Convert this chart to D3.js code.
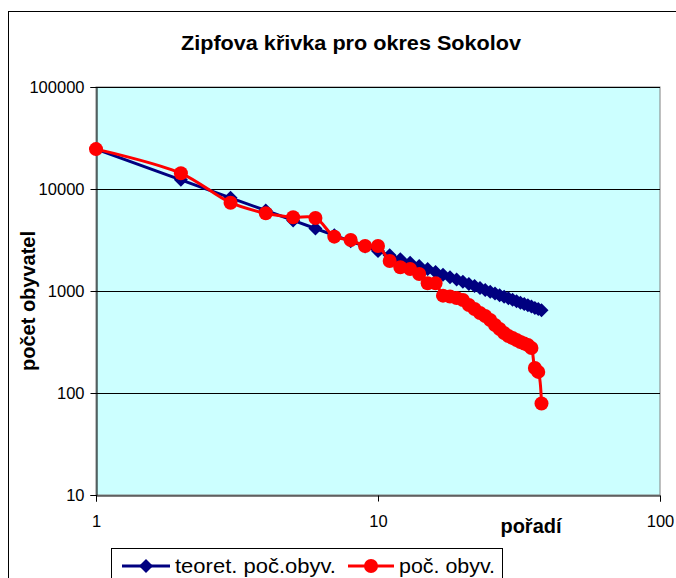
<!DOCTYPE html>
<html>
<head>
<meta charset="utf-8">
<script src="https://cdn.jsdelivr.net/npm/d3@7"></script>
<style>
  body { margin:0; background:#fff; }
  svg text { font-family:"Liberation Sans", Arial, sans-serif; }
</style>
</head>
<body>
<div id="chart"></div>
<script>
// ranks 1..38 (pořadí)
var ranks = d3.range(1, 39);

var pocObyv = [24600, 14260, 7340, 5780, 5280, 5200, 3410, 3160, 2760, 2760,
               1970, 1710, 1645, 1470, 1190, 1190, 900, 883, 853, 816,
               729, 666, 608, 569, 520, 464, 424, 387, 362, 346,
               331, 316, 305, 296, 276, 176, 161, 79];

// theoretical Zipf values (teoret. poč.obyv.) = first / rank
var teoretObyv = [24600, 12300, 8200, 6150, 4920, 4100, 3514, 3075, 2733, 2460,
                  2236, 2050, 1892, 1757, 1640, 1538, 1447, 1367, 1295, 1230,
                  1171, 1118, 1070, 1025, 984, 946, 911, 879, 848, 820,
                  794, 769, 745, 724, 703, 683, 665, 647];

var xTicks = [1, 10, 100];
var yTicks = [10, 100, 1000, 10000, 100000];

var W = 676, H = 578;
var plot = {left:96, right:660, top:87, bottom:495};

var svg = d3.select('#chart').append('svg')
    .attr('width', W)
    .attr('height', H);

//Outer chart frame
svg.append('rect')
    .attr('x', 8.5).attr('y', 11.5)
    .attr('width', 700).attr('height', 600)
    .attr('fill', '#fff')
    .attr('stroke', '#000')
    .attr('stroke-width', 1);

var x = d3.scaleLog().domain([1, 100]).range([plot.left, plot.right]);
var y = d3.scaleLog().domain([10, 100000]).range([plot.bottom, plot.top]);

//Plot background
svg.append('rect')
    .attr('x', plot.left).attr('y', plot.top)
    .attr('width', plot.right - plot.left)
    .attr('height', plot.bottom - plot.top)
    .attr('fill', '#CCFFFF')
    .attr('stroke', '#808080')
    .attr('stroke-width', 1);

//Horizontal grid lines
svg.append('g').selectAll('line')
    .data(yTicks.slice(1))
    .enter().append('line')
    .attr('x1', plot.left).attr('x2', plot.right)
    .attr('y1', function(d){ return Math.round(y(d)) + 0.5; })
    .attr('y2', function(d){ return Math.round(y(d)) + 0.5; })
    .attr('stroke', '#000')
    .attr('stroke-width', 1);

//Y axis
var yAxis = d3.axisLeft(y)
    .tickValues(yTicks)
    .tickFormat(d3.format('d'))
    .tickSize(6)
    .tickPadding(6);
var gy = svg.append('g')
    .attr('transform', 'translate(' + (plot.left + 0.5) + ',0)')
    .call(yAxis);
gy.selectAll('text').attr('font-size', 16.5).attr('fill', '#000');
gy.selectAll('line, path').attr('stroke', '#000');

//X axis
var xAxis = d3.axisBottom(x)
    .tickValues(xTicks)
    .tickFormat(d3.format('d'))
    .tickSize(6)
    .tickPadding(14);
var gx = svg.append('g')
    .attr('transform', 'translate(0,' + (plot.bottom + 0.5) + ')')
    .call(xAxis);
gx.selectAll('text').attr('font-size', 16.5).attr('fill', '#000');
gx.selectAll('line, path').attr('stroke', '#000');

//Title
svg.append('text')
    .attr('x', 351).attr('y', 50)
    .attr('text-anchor', 'middle')
    .attr('font-size', 20)
    .attr('font-weight', 'bold')
    .attr('textLength', 340)
    .attr('lengthAdjust', 'spacingAndGlyphs')
    .text('Zipfova křivka pro okres Sokolov');

//Axis titles
svg.append('text')
    .attr('transform', 'translate(35,301) rotate(-90)')
    .attr('text-anchor', 'middle')
    .attr('font-size', 20)
    .attr('font-weight', 'bold')
    .text('počet obyvatel');

svg.append('text')
    .attr('x', 531).attr('y', 533)
    .attr('text-anchor', 'middle')
    .attr('font-size', 20)
    .attr('font-weight', 'bold')
    .text('pořadí');

//Diamond marker path
function diamond(s)
{
    return 'M0,' + (-s) + 'L' + s + ',0L0,' + s + 'L' + (-s) + ',0Z';
}

//Theoretical series (navy, straight lines, diamonds)
var blueLine = d3.line()
    .x(function(d, i){ return x(ranks[i]); })
    .y(function(d){ return y(d); });

svg.append('path')
    .datum(teoretObyv)
    .attr('d', blueLine)
    .attr('fill', 'none')
    .attr('stroke', '#000080')
    .attr('stroke-width', 3);

svg.append('g').selectAll('path')
    .data(teoretObyv)
    .enter().append('path')
    .attr('transform', function(d, i){ return 'translate(' + x(ranks[i]) + ',' + y(d) + ')'; })
    .attr('d', diamond(7))
    .attr('fill', '#000080');

//Actual series (red, smoothed line, circles)
var redLine = d3.line()
    .x(function(d, i){ return x(ranks[i]); })
    .y(function(d){ return y(d); })
    .curve(d3.curveCatmullRom.alpha(0.5));

svg.append('path')
    .datum(pocObyv)
    .attr('d', redLine)
    .attr('fill', 'none')
    .attr('stroke', '#FF0000')
    .attr('stroke-width', 3);

svg.append('g').selectAll('circle')
    .data(pocObyv)
    .enter().append('circle')
    .attr('cx', function(d, i){ return x(ranks[i]); })
    .attr('cy', function(d){ return y(d); })
    .attr('r', 7)
    .attr('fill', '#FF0000');

//Legend
var lg = svg.append('g');
lg.append('rect')
    .attr('x', 111.5).attr('y', 548.5)
    .attr('width', 391).attr('height', 60)
    .attr('fill', '#fff')
    .attr('stroke', '#000');

lg.append('line')
    .attr('x1', 122).attr('x2', 170).attr('y1', 566).attr('y2', 566)
    .attr('stroke', '#000080').attr('stroke-width', 3);
lg.append('path')
    .attr('transform', 'translate(146,566)')
    .attr('d', diamond(7))
    .attr('fill', '#000080');
lg.append('text')
    .attr('x', 175).attr('y', 573)
    .attr('font-size', 20)
    .attr('textLength', 161)
    .attr('lengthAdjust', 'spacingAndGlyphs')
    .text('teoret. poč.obyv.');

lg.append('line')
    .attr('x1', 348).attr('x2', 394).attr('y1', 566).attr('y2', 566)
    .attr('stroke', '#FF0000').attr('stroke-width', 3);
lg.append('circle')
    .attr('cx', 371).attr('cy', 566).attr('r', 7)
    .attr('fill', '#FF0000');
lg.append('text')
    .attr('x', 399).attr('y', 573)
    .attr('font-size', 20)
    .attr('textLength', 96)
    .attr('lengthAdjust', 'spacingAndGlyphs')
    .text('poč. obyv.');
</script>
</body>
</html>
